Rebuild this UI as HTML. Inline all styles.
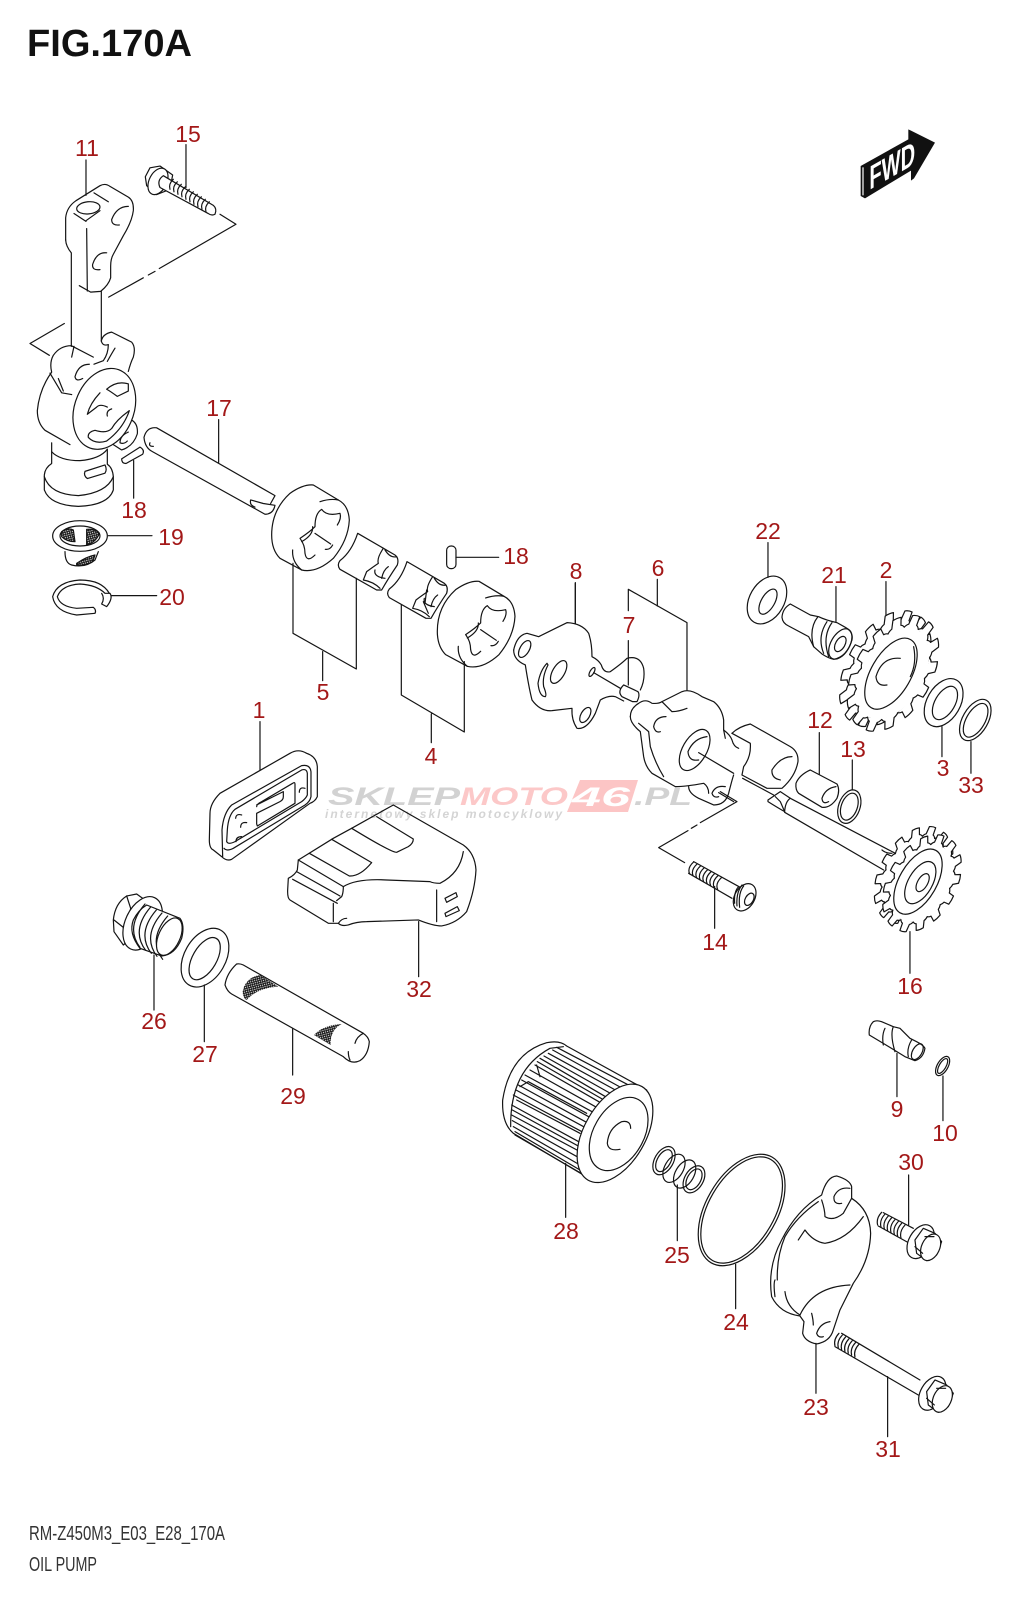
<!DOCTYPE html>
<html><head><meta charset="utf-8"><title>FIG.170A Oil Pump</title>
<style>
html,body{margin:0;padding:0;background:#fff}
svg{display:block}
path,ellipse,circle,rect,polygon,line{vector-effect:non-scaling-stroke}
.d{fill:none;stroke:#141414;stroke-width:1.2;stroke-linecap:round;stroke-linejoin:round}
.w{fill:#fff}
.n{font-family:"Liberation Sans",Arial,sans-serif;font-size:23px;fill:#a31818;text-anchor:middle}
</style></head><body>
<svg width="1024" height="1600" viewBox="0 0 1024 1600" xmlns="http://www.w3.org/2000/svg">
<defs>
<pattern id="mesh" patternUnits="userSpaceOnUse" width="9" height="9" patternTransform="rotate(30)">
<path d="M0 0L9 9M9 0L0 9" stroke="#111" stroke-width="3" fill="none"/>
</pattern>
<path id="t" class="d w" d="M78 -17.8Q83 -14 84 -10L99 -9Q101 0 99 9L84 10Q83 14 78 17.8"/>
<g id="gear">
<circle r="79" fill="#fff" stroke="none"/>
<use href="#t"/><use href="#t" transform="rotate(25.714)"/><use href="#t" transform="rotate(51.43)"/><use href="#t" transform="rotate(77.14)"/><use href="#t" transform="rotate(102.86)"/><use href="#t" transform="rotate(128.57)"/><use href="#t" transform="rotate(154.29)"/><use href="#t" transform="rotate(180)"/><use href="#t" transform="rotate(205.71)"/><use href="#t" transform="rotate(231.43)"/><use href="#t" transform="rotate(257.14)"/><use href="#t" transform="rotate(282.86)"/><use href="#t" transform="rotate(308.57)"/><use href="#t" transform="rotate(334.29)"/>
</g>
<g id="rotor" class="d">
<path class="w" d="M35 195Q35 120 90 70Q130 42 160 45L235 90Q265 105 268 150Q265 210 220 265Q170 310 125 300L60 265Q35 240 35 195Z"/>
<path d="M98 240Q95 275 125 300M180 95Q210 85 235 90"/>
<path d="M120 205Q150 185 165 170Q165 130 185 118Q200 140 240 130Q245 145 232 165M120 205Q135 225 135 250Q140 280 165 255M165 190L212 222M196 238Q210 240 218 225M158 170Q160 195 125 215"/>
</g>
<g id="inner" class="d">
<path class="w" d="M293 190L405 255Q418 265 412 285Q385 325 365 360L350 360L240 298Q230 285 240 272Q275 245 293 190Z"/>
<path d="M370 235Q350 265 355 280Q340 290 320 305L310 330Q340 335 360 355M345 300Q340 320 375 325M375 240Q390 265 410 260M385 290Q370 300 365 325"/>
</g>
<g id="head" class="d">
<ellipse class="w" cx="1322" cy="665" rx="35" ry="55" transform="rotate(30 1322 665)"/>
<path class="w" d="M1305 660L1330 625L1365 640L1385 665L1370 705L1340 722L1310 700Z"/>
<ellipse class="w" cx="1352" cy="682" rx="27" ry="42" transform="rotate(25 1352 682)"/>
<path d="M1335 650H1362M1305 680L1328 700"/>
</g>
</defs>

<!-- watermark -->
<g font-family="'Liberation Sans',Arial,sans-serif" font-weight="bold" font-style="italic">
<polygon points="580,780 638,780 628,812 567,812" fill="#fcc5c5"/>
<text x="328" y="805" font-size="25" fill="#d2d2d2" textLength="132" lengthAdjust="spacingAndGlyphs">SKLEP</text>
<text x="460" y="805" font-size="25" fill="#fcc8c8" textLength="108" lengthAdjust="spacingAndGlyphs">MOTO</text>
<text x="572" y="806" font-size="27" fill="#fff" textLength="58" lengthAdjust="spacingAndGlyphs">46</text>
<text x="634" y="805" font-size="25" fill="#d2d2d2" textLength="58" lengthAdjust="spacingAndGlyphs">.PL</text>
<text x="325" y="818" font-size="12" fill="#d4d4d4" textLength="237" lengthAdjust="spacing">internetowy sklep motocyklowy</text>
</g>

<!-- title / footer -->
<text x="27" y="56" font-family="'Liberation Sans',Arial,sans-serif" font-weight="bold" font-size="38" fill="#111" textLength="165" lengthAdjust="spacingAndGlyphs">FIG.170A</text>
<text x="29" y="1540" font-family="'Liberation Sans',Arial,sans-serif" font-size="20" fill="#333" textLength="196" lengthAdjust="spacingAndGlyphs">RM-Z450M3_E03_E28_170A</text>
<text x="29" y="1571" font-family="'Liberation Sans',Arial,sans-serif" font-size="20" fill="#333" textLength="68" lengthAdjust="spacingAndGlyphs">OIL PUMP</text>

<!-- FWD -->
<g transform="translate(840,110) scale(.3333)">
<polygon points="62,168 205,88 205,58 213,62 285,98 222,205 213,212 213,182 75,265 62,258" fill="#111"/>
<path d="M69 172V256" stroke="#fff" stroke-width="1.2" fill="none"/>
<text transform="matrix(.87 -.5 0 1 88 240)" x="0" y="0" font-family="'Liberation Sans',Arial,sans-serif" font-weight="bold" font-size="100" fill="#fff" textLength="158" lengthAdjust="spacingAndGlyphs">FWD</text>
</g>

<!-- Zoom-1 region -->
<g class="d" transform="scale(.3333,.3571)">
<path d="M197 672L197 610Q200 580 228 562L300 520Q316 512 330 522L385 552Q402 562 400 590Q396 620 370 660L340 712Q332 725 332 745L332 778Q326 798 302 816L272 818L238 800"/>
<path d="M197 672Q198 690 214 708L214 970M260 640L262 815M304 816L304 955"/>
<ellipse cx="265" cy="582" rx="35" ry="17" transform="rotate(-5 265 582)"/>
<path d="M222 598L258 620M282 540L325 565M258 618L300 590"/>
<path d="M385 578Q350 578 335 615Q335 632 358 630M320 708Q290 705 278 740Q275 758 300 755"/>
<path d="M660 600L708 628L478 752M465 760L445 770M430 778L326 832M193 906L90 962L148 995"/>
<path d="M258 547V448M558 525V405"/>
<!-- bolt 15 -->
<path class="w" d="M436 495L450 470L480 465L518 490L510 530L470 545L440 520Z"/>
<ellipse class="w" cx="474" cy="508" rx="26" ry="40" transform="rotate(30 474 508)"/>
<path class="w" d="M490 492L640 575Q652 585 645 600Q635 605 625 598L480 525Q470 505 490 492Z"/>
<path d="M510 530q-5-15 10-28m2 35q-5-15 10-28m2 35q-5-15 10-28m2 35q-5-15 10-28m2 35q-5-15 10-28m2 35q-5-15 10-28m2 35q-5-15 10-28m2 35q-5-15 10-28m2 35q-5-15 10-28m2 35q-5-15 10-28"/>
<!-- pump body -->
<path d="M214 968Q180 968 160 995Q148 1015 155 1042Q118 1090 112 1150Q112 1185 135 1205L210 1245"/>
<path d="M214 968L280 1000M304 955Q308 935 335 930L395 958Q408 972 400 1000Q392 1015 385 1040"/>
<path d="M304 955Q308 970 325 965Q325 990 310 1010L282 1020M322 1012Q335 990 345 975"/>
<path d="M268 1020Q235 1020 225 1055Q228 1070 248 1060M150 1045L185 1100L215 1105M175 1060L190 1095M222 970L215 1000"/>
<path d="M392 1175Q415 1185 412 1215Q400 1250 365 1260L340 1245M385 1210Q360 1220 360 1240Q372 1245 382 1235"/>
<ellipse class="w" cx="313" cy="1145" rx="88" ry="118" transform="rotate(25 313 1145)"/>
<path d="M320 1090Q350 1065 385 1075L385 1095L352 1110Q330 1095 320 1090ZM300 1100Q270 1130 262 1160L290 1140Q300 1130 322 1140"/>
<path d="M335 1145Q318 1150 322 1165M388 1150Q350 1175 335 1200Q320 1215 285 1205Q262 1210 265 1225Q285 1245 320 1235Q370 1200 388 1150Z"/>
<path d="M155 1240L155 1298Q135 1310 133 1330L133 1372Q150 1415 235 1418Q325 1415 340 1372L340 1335Q338 1310 322 1300L322 1258"/>
<path d="M133 1335Q150 1385 235 1388Q320 1380 340 1335M155 1265Q180 1290 240 1290Q300 1285 322 1258"/>
<path d="M255 1320L315 1302Q322 1315 315 1325L262 1340Q250 1332 255 1320Z"/>
<path d="M365 1285L420 1252Q435 1260 428 1272L378 1298Q365 1298 365 1285ZM401 1290V1395"/>
<!-- shaft 17 -->
<path d="M470 1198L825 1388L812 1410M470 1198Q440 1195 432 1225Q435 1255 458 1265L795 1440Q820 1440 825 1415L790 1410L752 1400Q748 1415 765 1420M450 1240Q445 1250 460 1250M656 1175V1295"/>
</g>

<!-- 19 / 20 -->
<g class="d" transform="translate(30,500) scale(.3333)">
<path d="M105 155Q105 190 125 195Q165 205 195 180L205 155"/>
<path fill="url(#mesh)" d="M140 190Q170 170 195 165L188 185Q165 198 140 195Z"/>
<ellipse class="w" cx="150" cy="108" rx="82" ry="46"/>
<ellipse cx="150" cy="108" rx="60" ry="30"/>
<path fill="url(#mesh)" d="M95 95Q115 82 130 90L135 125Q110 125 95 110Z"/>
<path fill="url(#mesh)" d="M170 88Q195 85 208 100Q200 125 170 135Z"/>
<path d="M235 107H366M245 287H380"/>
<path d="M238 280Q215 240 150 240Q80 245 68 290Q75 335 140 345L195 340Q200 330 190 322L140 325Q90 320 82 290Q95 255 150 252Q200 255 225 280L240 280Q250 295 230 320L215 312Q225 295 215 280"/>
</g>

<!-- rotors -->
<g class="d" transform="translate(260,470) scale(.3333)">
<use href="#rotor"/>
<use href="#inner"/>
<use href="#inner" transform="translate(148,85)"/>
<path d="M490 395L505 430M500 360L495 400"/>
<use href="#rotor" transform="translate(497,289)"/>
<rect x="560" y="228" width="28" height="68" rx="13"/>
<path d="M588 262H716"/>
</g>

<!-- Zoom-3 region -->
<g class="d" transform="translate(200,540) scale(.3333)">
<path d="M279 70V280L469 387V115M368 335V422M604 195V465L793 576V365M694 522V608"/>
<path d="M180 545V690M1126 130V250"/>
<!-- gasket 1 -->
<path d="M30 820Q30 790 60 760L270 640Q295 625 320 640Q350 650 352 680L352 770Q345 785 330 790L95 958Q80 965 65 950L40 930Q28 925 28 900Z"/>
<path d="M68 950L66 870Q70 820 95 795L305 677Q330 672 333 695L333 770Q330 785 315 795L100 925Q80 935 72 925"/>
<path d="M82 870Q85 825 105 808L305 690Q320 685 322 700L322 765Q318 775 305 785L105 905Q85 915 80 905Z"/>
<path d="M170 795L250 755V770Q250 780 240 785L170 820V852L172 858L285 790V732Q285 725 278 730L185 785Q170 792 170 800"/>
<path d="M125 825Q108 820 107 835M140 848Q122 845 122 862M125 890Q108 890 108 905M315 745Q298 740 298 757"/>
<!-- 32 -->
<path d="M295 960L400 895L455 865L580 795L790 915Q825 940 828 990Q825 1050 800 1115Q770 1150 725 1158Q700 1158 655 1140L500 1145Q470 1145 445 1155Q425 1160 415 1150L385 1150L270 1080Q262 1075 263 1050L265 1015Q285 1005 292 990Z"/>
<path d="M295 960L430 1040Q430 1060 425 1070L410 1082M278 1018L412 1090M290 995L420 1068"/>
<path d="M328 940L448 1008Q480 1010 515 968L395 898M530 830L640 897Q640 910 625 920L590 937Q575 938 455 865"/>
<path d="M430 1040Q470 1015 560 1020L690 1025Q700 1030 720 1030Q780 1000 790 935M400 1090V1145M710 1050V1145M415 1150Q425 1135 440 1135"/>
<path d="M735 1075L768 1058L772 1070L740 1087ZM735 1120L772 1100L778 1112L738 1130Z"/>
<path d="M656 1145V1310"/>
</g>

<!-- Zoom-2 region -->
<g class="d" transform="translate(512,500) scale(.3333)">
<!-- leaders -->
<path d="M768 128V232M972 260V365M1122 245V350M1290 680V770M1377 725V820M922 698V825M1021 780V870M1194 1295V1420M608 1160V1285M190 248V370M436 238V318M349 422V555"/>
<path d="M349 332V268L525 368V570"/>
<path d="M625 875L675 905L565 968M555 975L538 985M528 992L440 1043L518 1088"/>
<!-- plate 8 -->
<path d="M5 450Q15 405 45 400L80 410Q130 385 165 368Q210 370 230 400Q240 430 240 470Q260 480 268 495Q275 520 295 515Q330 490 345 475Q385 465 395 505Q400 540 385 570"/>
<path d="M5 450Q5 480 40 495Q50 560 60 600Q85 635 120 632L180 625Q178 660 195 685Q225 690 250 640L265 600Q290 585 310 590L335 603"/>
<ellipse cx="38" cy="447" rx="14" ry="28" transform="rotate(30 38 447)"/>
<ellipse cx="140" cy="516" rx="18" ry="38" transform="rotate(30 140 516)"/>
<ellipse cx="220" cy="645" rx="13" ry="25" transform="rotate(30 220 645)"/>
<ellipse cx="240" cy="516" rx="6" ry="15" transform="rotate(30 240 516)"/>
<path d="M105 490Q85 510 78 550Q82 590 100 590Q105 585 95 560Q90 530 108 495Z"/>
<path d="M245 518L325 565"/>
<path class="w" d="M335 555L378 575Q385 585 375 605L362 605L330 590Q315 575 335 555Z"/>
<!-- shaft -->
<path d="M560 758L665 820M692 835L785 885M835 895L1150 1060M818 937L1115 1110"/>
<!-- right cylinder of 6 -->
<path d="M660 700Q680 680 715 672L835 740Q860 755 858 785Q850 830 810 865L765 865L690 825"/>
<path d="M840 770Q805 770 780 810Q778 835 805 840M660 700L715 730Q718 770 695 800L690 825"/>
<!-- body 6 -->
<path d="M355 650Q355 625 380 610Q400 595 420 610Q440 612 450 605L510 575Q535 565 570 590L605 605Q630 625 635 660L635 690Q655 705 660 720Q665 740 680 745"/>
<path d="M355 650Q355 670 385 695L395 770Q400 800 420 820L490 860Q520 860 575 850Q590 860 590 880M530 860Q530 880 560 895L605 915Q640 915 650 880Q660 840 665 825"/>
<path d="M450 605Q470 625 480 635Q500 635 525 625M380 670L410 695L415 740Q430 790 455 830M462 650Q430 650 425 680Q430 700 445 695M635 690L640 715"/>
<ellipse cx="548" cy="750" rx="36" ry="68" transform="rotate(30 548 750)"/>
<path d="M585 710Q545 715 528 755Q530 785 560 780"/>
<path d="M640 860Q610 855 600 880Q605 895 620 890M620 878L665 905"/>
<!-- shaft end 16 -->
<path class="w" d="M768 900L805 875L835 895Q820 905 818 935Q800 925 768 905Z"/>
<path d="M790 890L805 905L818 935M1110 1050Q1120 1060 1140 1060"/>
<!-- 22 -->
<ellipse cx="765" cy="300" rx="52" ry="77" transform="rotate(30 765 300)"/>
<ellipse cx="768" cy="305" rx="20" ry="42" transform="rotate(30 768 305)"/>
<!-- 21 -->
<path d="M835 312Q812 325 810 352Q812 370 830 378L890 410Q900 430 905 440L930 462Q950 475 965 478Q1005 470 1020 420Q1025 395 1000 382L975 368Q940 360 920 350L895 345Z"/>
<ellipse cx="985" cy="432" rx="28" ry="50" transform="rotate(30 985 432)"/>
<ellipse cx="985" cy="432" rx="14" ry="25" transform="rotate(30 985 432)"/>
<path d="M918 350Q890 385 905 440M945 365Q915 410 935 460M960 368Q930 410 950 470"/>
<!-- gear 2 -->
<use href="#gear" transform="translate(1120,506) rotate(30) scale(1.15,1.9)"/>
<use href="#gear" transform="translate(1143,520) rotate(30) scale(1.15,1.9)"/>
<ellipse cx="1137" cy="521" rx="60" ry="118" transform="rotate(30 1137 521)"/>
<path d="M1165 475Q1110 470 1092 530Q1095 560 1125 555"/>
<path d="M1205 440Q1215 490 1195 530"/>
<!-- 3 -->
<ellipse cx="1295" cy="608" rx="50" ry="78" transform="rotate(30 1295 608)"/>
<ellipse cx="1299" cy="609" rx="30" ry="55" transform="rotate(30 1299 609)"/>
<!-- 33 -->
<ellipse cx="1390" cy="660" rx="38" ry="68" transform="rotate(30 1390 660)"/>
<ellipse cx="1391" cy="661" rx="28" ry="56" transform="rotate(30 1391 661)"/>
<!-- 12 -->
<path class="w" d="M895 810L975 852Q985 870 975 895Q955 925 930 922L860 880Q850 870 852 850Q862 825 895 810Z"/>
<path d="M972 860Q940 865 930 895Q932 915 950 905"/>
<!-- 13 -->
<ellipse cx="1012" cy="920" rx="32" ry="52" transform="rotate(20 1012 920)"/>
<ellipse cx="1012" cy="920" rx="24" ry="42" transform="rotate(20 1012 920)"/>
<!-- 14 -->
<path d="M545 1085L690 1165M530 1120L660 1195"/>
<path d="M533 1122q-8-18 12-36m-1.5 41.8q-8-18 12-36m-1.5 41.8q-8-18 12-36m-1.5 41.8q-8-18 12-36m-1.5 41.8q-8-18 12-36m-1.5 41.8q-8-18 12-36m-1.5 41.8q-8-18 12-36m-1.5 41.8q-8-18 12-36m-1.5 41.8q-8-18 12-36"/>
<ellipse class="w" cx="698" cy="1192" rx="30" ry="44" transform="rotate(30 698 1192)"/>
<path d="M680 1160Q665 1175 668 1210M695 1158Q678 1180 683 1222M690 1155Q672 1178 675 1218"/>
<ellipse cx="712" cy="1198" rx="12" ry="20" transform="rotate(30 712 1198)"/>
<!-- gear 16 -->
<use href="#gear" transform="translate(1205,1125) rotate(30) scale(1.02,1.58)"/>
<use href="#gear" transform="translate(1230,1150) rotate(30) scale(1.02,1.58)"/>
<ellipse cx="1218" cy="1145" rx="56" ry="108" transform="rotate(30 1218 1145)"/>
<ellipse cx="1225" cy="1148" rx="36" ry="70" transform="rotate(30 1225 1148)"/>
<ellipse cx="1232" cy="1148" rx="15" ry="30" transform="rotate(30 1232 1148)"/>
</g>

<!-- Zoom-5 region -->
<g class="d" transform="translate(90,870) scale(.3333)">
<path d="M192 255V420M343 345V515M608 475V615"/>
<path class="w" d="M70 150Q75 100 110 78L140 72L165 90L130 200L100 225L72 185Z"/>
<path d="M72 150L110 180M110 180L122 115L110 78"/>
<ellipse class="w" cx="158" cy="160" rx="52" ry="85" transform="rotate(25 158 160)"/>
<path class="w" d="M170 105L270 145Q285 165 275 205Q255 255 215 258L150 235Q115 190 130 150Q145 120 170 105Z"/>
<path d="M150 232q-45-60 15-130m2 139q-45-60 15-130m2 139q-45-60 15-130m2 139q-45-60 15-130m2 139q-45-60 15-130"/>
<ellipse class="w" cx="238" cy="200" rx="32" ry="60" transform="rotate(25 238 200)"/>
<!-- 27 -->
<ellipse cx="345" cy="263" rx="62" ry="95" transform="rotate(30 345 263)"/>
<ellipse cx="344" cy="266" rx="36" ry="70" transform="rotate(30 344 266)"/>
<!-- 29 -->
<path d="M440 282Q410 310 405 345Q412 365 425 372L760 560Q785 585 810 572Q835 555 838 515Q835 500 820 490L460 285Q450 280 440 282Z"/>
<path d="M820 490Q800 500 795 520M775 545Q775 560 780 570"/>
<path fill="url(#mesh)" stroke="none" d="M462 350Q475 320 510 315L565 350Q500 355 470 390Q458 385 458 365Z"/>
<path fill="url(#mesh)" stroke="none" d="M672 495Q700 465 755 462Q720 480 722 525Z"/>
</g>

<!-- Zoom-4 region -->
<g class="d" transform="translate(480,1020) scale(.3333)">
<path d="M257 430V592M592 495V662M767 733V866M1008 970V1120M1223 1070V1250M1286 465V615M1251 100V230M1389 168V302"/>
<!-- filter -->
<path d="M100 340Q65 310 68 240Q90 100 200 68Q240 60 260 78L500 210M100 340L310 465"/>
<path d="M92 320Q90 150 210 85L250 80"/>
<path d="M230 82L470 208M205 100L415 215M180 115L385 235M165 135L365 250M135 165L345 280M115 195L325 310M100 225L315 340M95 255L305 370M95 285L300 395M100 320L300 435M105 335L300 450M105 345L300 458M170 135L180 170M120 200L145 185L320 280M110 240L300 340"/>
<path d="M218 90L440 212M192 108L400 225M172 125L375 242M150 150L355 265M125 180L335 295M108 210L320 325M97 270L302 382M97 302L300 415"/>
<ellipse class="w" cx="405" cy="340" rx="92" ry="162" transform="rotate(30 405 340)"/>
<ellipse cx="416" cy="342" rx="75" ry="119" transform="rotate(30 416 342)"/>
<path d="M452 325Q452 300 425 305Q385 325 382 370Q385 395 420 388"/>
<!-- spring -->
<ellipse cx="552" cy="422" rx="28" ry="46" transform="rotate(30 552 422)"/>
<ellipse cx="552" cy="422" rx="20" ry="36" transform="rotate(30 552 422)"/>
<ellipse cx="582" cy="445" rx="28" ry="46" transform="rotate(30 582 445)"/>
<ellipse cx="614" cy="462" rx="28" ry="46" transform="rotate(30 614 462)"/>
<ellipse cx="642" cy="478" rx="28" ry="44" transform="rotate(30 642 478)"/>
<ellipse cx="642" cy="478" rx="20" ry="34" transform="rotate(30 642 478)"/>
<!-- o-ring -->
<ellipse cx="785" cy="570" rx="107" ry="183" transform="rotate(30 785 570)"/>
<ellipse cx="785" cy="570" rx="99" ry="175" transform="rotate(30 785 570)"/>
<!-- cover 23 -->
<path d="M1025 525Q1040 470 1070 468Q1110 480 1115 500L1115 535Q1170 570 1172 640Q1170 720 1120 790L1080 870L1060 930Q1050 965 1010 972Q975 965 968 940L972 905L960 888Q900 880 875 830Q862 740 905 660Q950 570 1025 525Z"/>
<path d="M1025 540Q1035 570 1035 590Q1060 605 1090 580L1115 535M1110 505Q1075 500 1062 530Q1060 555 1085 550"/>
<path d="M955 660L975 630Q1000 665 1035 670Q1100 660 1150 590M960 885Q1000 800 1110 795M995 880Q1000 900 1000 915M1050 905Q1020 910 1010 940Q1015 955 1030 950"/>
<path d="M885 830Q880 790 885 780M915 815Q920 860 960 885M1015 545Q950 590 915 650Q890 710 892 780"/>
<!-- 30 -->
<path d="M1210 578L1300 625M1195 618L1285 668"/>
<path d="M1193 615q-5-20 12-38m-2 43.5q-5-20 12-38m-2 43.5q-5-20 12-38m-2 43.5q-5-20 12-38m-2 43.5q-5-20 12-38m-2 43.5q-5-20 12-38m-2 43.5q-5-20 12-38m-2 43.5q-5-20 12-38"/>
<use href="#head"/>
<!-- 31 -->
<path d="M1085 940L1320 1080M1065 980L1315 1125"/>
<path d="M1065 978q-5-20 12-38m-2 43.5q-5-20 12-38m-2 43.5q-5-20 12-38m-2 43.5q-5-20 12-38m-2 43.5q-5-20 12-38m-2 43.5q-5-20 12-38m-2 43.5q-5-20 12-38"/>
<use href="#head" transform="translate(35,455)"/>
<!-- 9 -->
<path d="M1180 5Q1165 20 1168 45L1210 70L1275 110L1305 122Q1330 115 1335 85Q1330 75 1310 65L1290 55L1260 25L1240 20L1205 5Q1190 0 1180 5Z"/>
<path d="M1215 25Q1205 45 1210 75M1240 20Q1230 45 1245 95M1295 60Q1280 85 1285 110"/>
<ellipse cx="1312" cy="95" rx="14" ry="26" transform="rotate(30 1312 95)"/>
<!-- 10 -->
<ellipse cx="1388" cy="138" rx="16" ry="32" transform="rotate(30 1388 138)"/>
<ellipse cx="1388" cy="138" rx="10" ry="25" transform="rotate(30 1388 138)"/>
</g>

<!-- labels -->
<g class="n">
<text x="87" y="156">11</text><text x="188" y="142">15</text><text x="219" y="416">17</text>
<text x="134" y="518">18</text><text x="171" y="545">19</text><text x="172" y="605">20</text>
<text x="516" y="564">18</text><text x="576" y="579">8</text><text x="323" y="700">5</text>
<text x="431" y="764">4</text><text x="259" y="718">1</text><text x="419" y="997">32</text>
<text x="768" y="539">22</text><text x="834" y="583">21</text><text x="886" y="578">2</text>
<text x="658" y="576">6</text><text x="629" y="633">7</text><text x="820" y="728">12</text>
<text x="853" y="757">13</text><text x="943" y="776">3</text><text x="971" y="793">33</text>
<text x="715" y="950">14</text><text x="910" y="994">16</text><text x="154" y="1029">26</text>
<text x="205" y="1062">27</text><text x="293" y="1104">29</text><text x="897" y="1117">9</text>
<text x="945" y="1141">10</text><text x="911" y="1170">30</text><text x="566" y="1239">28</text>
<text x="677" y="1263">25</text><text x="736" y="1330">24</text><text x="816" y="1415">23</text>
<text x="888" y="1457">31</text>
</g>
</svg>
</body></html>
